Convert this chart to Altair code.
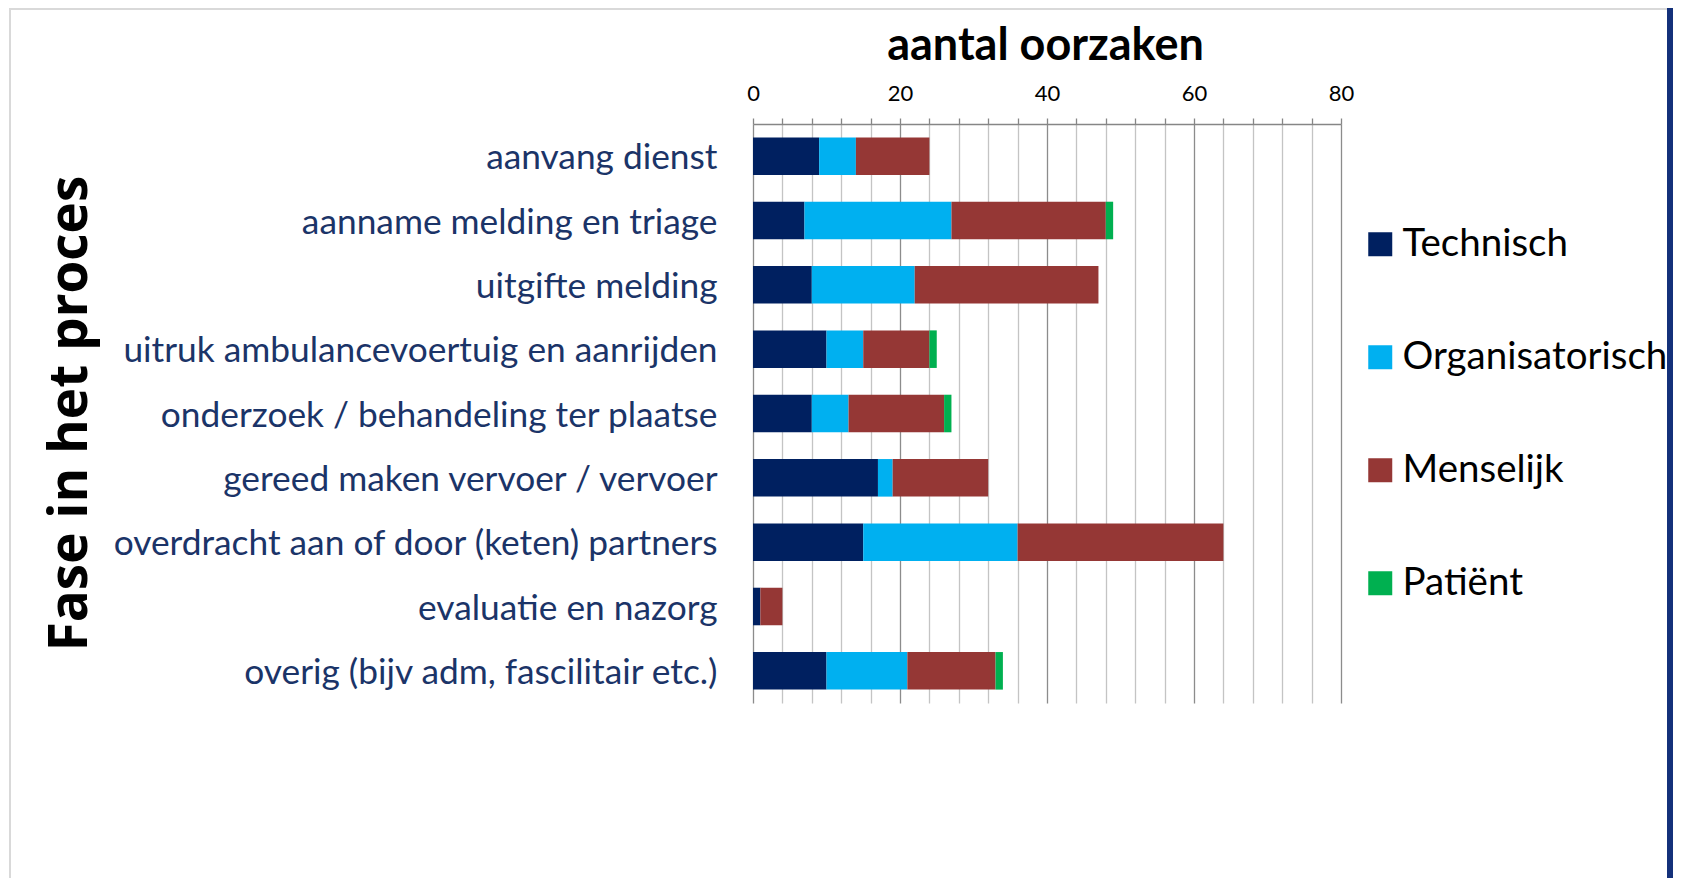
import altair as alt
import pandas as pd

categories = [
    "aanvang dienst",
    "aanname melding en triage",
    "uitgifte melding",
    "uitruk ambulancevoertuig en aanrijden",
    "onderzoek / behandeling ter plaatse",
    "gereed maken vervoer / vervoer",
    "overdracht aan of door (keten) partners",
    "evaluatie en nazorg",
    "overig (bijv adm, fascilitair etc.)",
]
series = ["Technisch", "Organisatorisch", "Menselijk", "Patiënt"]
technisch = [9, 7, 8, 10, 8, 17, 15, 1, 10]
organisatorisch = [5, 20, 14, 5, 5, 2, 21, 0, 11]
menselijk = [10, 21, 25, 9, 13, 13, 28, 3, 12]
patient = [0, 1, 0, 1, 1, 0, 0, 0, 1]
colors = ["#002060", "#00B0F0", "#953735", "#00B050"]
x_ticks = list(range(0, 81, 4))

rows = []
for idx, vals in enumerate([technisch, organisatorisch, menselijk, patient]):
    for cat, v in zip(categories, vals):
        rows.append({"fase": cat, "type": series[idx], "volgorde": idx, "aantal": v})
df = pd.DataFrame(rows)

W, H = 588, 579
PAD_L, PAD_T, PAD_R, PAD_B = 745, 116, 332, 175

bars = alt.Chart(df).mark_bar().encode(
    x=alt.X(
        "aantal:Q",
        stack="zero",
        scale=alt.Scale(domain=[0, 80], nice=False),
        axis=alt.Axis(
            orient="top",
            values=x_ticks,
            labelExpr="datum.value % 20 === 0 ? datum.label : ''",
            labelOverlap=False,
            labelFlush=False,
            labelFont="Lato",
            labelFontSize=22,
            labelColor="#000000",
            labelBaseline="alphabetic",
            labelPadding=18,
            tickSize=6,
            tickColor="#868686",
            tickWidth=1.3,
            domainColor="#868686",
            domainWidth=1.5,
            grid=True,
            gridColor=alt.condition("datum.value % 20 === 0", alt.value("#8c8c8c"), alt.value("#c4c4c4")),
            gridWidth=1.3,
            title="aantal oorzaken",
            titleFont="Lato",
            titleFontSize=45,
            titleFontWeight="bold",
            titleColor="#000000",
            titleX=292,
            titleY=-65,
            titleAlign="center",
            titleBaseline="alphabetic",
        ),
    ),
    y=alt.Y(
        "fase:N",
        sort=categories,
        scale=alt.Scale(paddingInner=0.416, paddingOuter=0.208),
        axis=alt.Axis(
            ticks=False,
            domain=False,
            labelFont="Lato",
            labelFontSize=35.3,
            labelColor="#1B3468",
            labelPadding=36,
            labelOffset=2,
            labelLimit=900,
            title="Fase in het proces",
            titleFont="Open Sans",
            titleFontSize=53,
            titleFontWeight="bold",
            titleColor="#000000",
            titleAngle=270,
            titleX=-683,
            titleY=289,
            titleAlign="center",
            titleBaseline="middle",
        ),
    ),
    color=alt.Color(
        "type:N",
        scale=alt.Scale(domain=series, range=colors),
        legend=alt.Legend(
            title=None,
            orient="none",
            legendX=608,
            legendY=101,
            symbolType="square",
            symbolSize=576,
            symbolStrokeWidth=0,
            labelFont="Lato",
            labelFontSize=38.5,
            labelColor="#000000",
            labelOffset=3,
            rowPadding=74,
            labelLimit=400,
        ),
    ),
    order=alt.Order("volgorde:Q"),
)

one = pd.DataFrame({"k": [0]})
right_edge = W + PAD_R
bottom_edge = H + PAD_B
frame_left = alt.Chart(one).mark_rule(color="#D9D9D9", strokeWidth=2).encode(
    x=alt.value(-743), y=alt.value(-PAD_T), y2=alt.value(bottom_edge)
)
frame_top = alt.Chart(one).mark_rule(color="#D9D9D9", strokeWidth=2).encode(
    x=alt.value(-743), x2=alt.value(right_edge - 6), y=alt.value(-PAD_T + 1)
)
edge_bar = alt.Chart(one).mark_rect(color="#14317A").encode(
    x=alt.value(right_edge - 6), x2=alt.value(right_edge), y=alt.value(-PAD_T), y2=alt.value(bottom_edge)
)

chart = (
    alt.layer(frame_left, frame_top, bars, edge_bar)
    .properties(
        width=W,
        height=H,
        autosize=alt.AutoSizeParams(type="none"),
        padding={"left": PAD_L, "top": PAD_T, "right": PAD_R, "bottom": PAD_B},
        background="#FFFFFF",
    )
    .configure_view(stroke=None)
)

chart.save("out.html", embed_options={"renderer": "svg", "actions": False})
